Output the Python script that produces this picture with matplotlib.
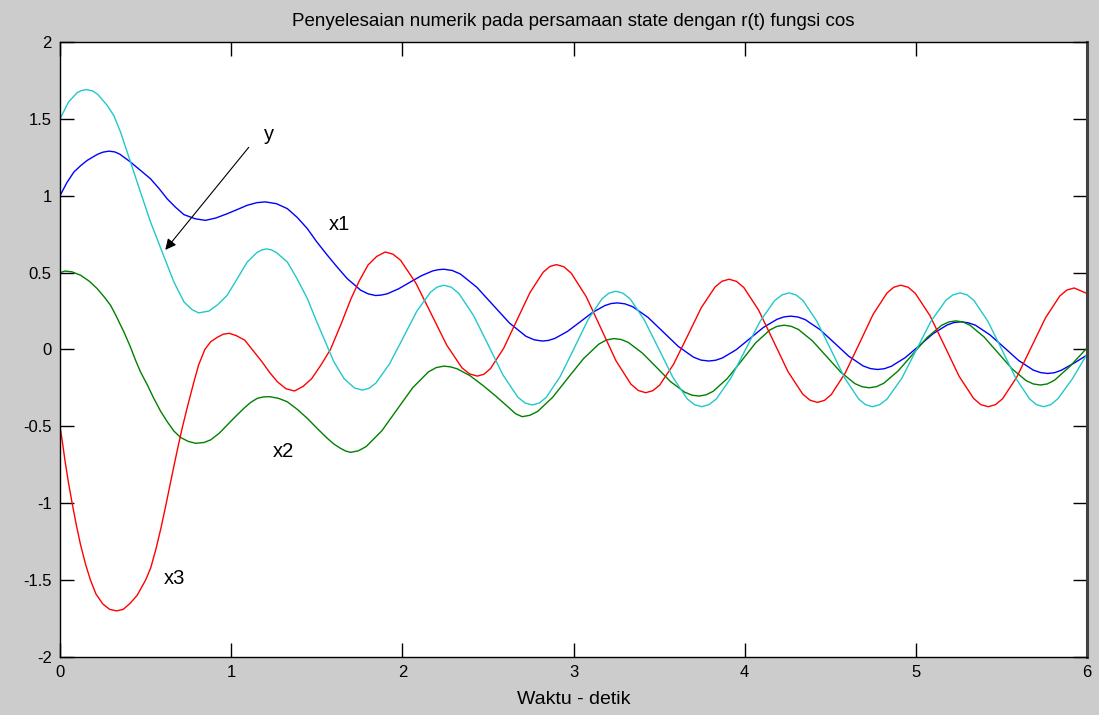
import matplotlib
matplotlib.use("Agg")
import matplotlib.pyplot as plt

# x1 (blue)
t_x1 = [0, 0.04, 0.081, 0.12, 0.159, 0.22, 0.25, 0.285, 0.32, 0.35, 0.412, 0.47, 0.529, 0.58, 0.626,
        0.675, 0.724, 0.79, 0.85, 0.91, 0.977, 1.035, 1.094, 1.15, 1.20, 1.265, 1.328, 1.385, 1.445,
        1.50, 1.562, 1.62, 1.678, 1.756, 1.80, 1.844, 1.877, 1.911, 1.977, 2.044, 2.110, 2.177, 2.21,
        2.243, 2.291, 2.339, 2.435, 2.530, 2.626, 2.722, 2.77, 2.818, 2.854, 2.891, 2.964, 3.038,
        3.111, 3.184, 3.22, 3.257, 3.30, 3.346, 3.435, 3.524, 3.612, 3.701, 3.745, 3.790, 3.83, 3.870,
        3.950, 4.030, 4.110, 4.190, 4.23, 4.270, 4.312, 4.354, 4.439, 4.523, 4.607, 4.692, 4.734,
        4.776, 4.816, 4.857, 4.938, 5.020, 5.101, 5.182, 5.222, 5.263, 5.305, 5.348, 5.432, 5.517,
        5.601, 5.686, 5.728, 5.770, 5.81, 5.850, 5.930, 6.0]
x1 = [1.0, 1.085, 1.154, 1.195, 1.23, 1.27, 1.283, 1.29, 1.285, 1.27, 1.219, 1.165, 1.11, 1.045, 0.98,
      0.925, 0.877, 0.85, 0.84, 0.855, 0.883, 0.91, 0.938, 0.955, 0.96, 0.948, 0.916, 0.86, 0.786,
      0.70, 0.613, 0.535, 0.461, 0.386, 0.362, 0.351, 0.354, 0.362, 0.394, 0.437, 0.479, 0.511, 0.519,
      0.522, 0.514, 0.491, 0.405, 0.289, 0.172, 0.086, 0.063, 0.055, 0.059, 0.072, 0.117, 0.179,
      0.241, 0.286, 0.299, 0.303, 0.297, 0.278, 0.209, 0.114, 0.020, -0.050, -0.069, -0.075, -0.070,
      -0.055, -0.002, 0.071, 0.144, 0.197, 0.212, 0.217, 0.211, 0.194, 0.130, 0.044, -0.043, -0.107,
      -0.124, -0.130, -0.125, -0.109, -0.053, 0.025, 0.103, 0.159, 0.175, 0.180, 0.174, 0.158, 0.096,
      0.012, -0.072, -0.134, -0.150, -0.156, -0.151, -0.135, -0.085, -0.036]

# x2 (green)
t_x2 = [0, 0.03, 0.07, 0.12, 0.17, 0.217, 0.256, 0.295, 0.325, 0.354, 0.373, 0.41, 0.441, 0.47,
        0.51, 0.548, 0.587, 0.626, 0.665, 0.704, 0.75, 0.792, 0.84, 0.88, 0.93, 0.977, 1.026, 1.074,
        1.113, 1.152, 1.19, 1.226, 1.277, 1.328, 1.387, 1.445, 1.504, 1.562, 1.60, 1.639, 1.668,
        1.698, 1.743, 1.789, 1.880, 1.970, 2.061, 2.152, 2.197, 2.243, 2.281, 2.319, 2.395, 2.472,
        2.548, 2.624, 2.662, 2.700, 2.745, 2.790, 2.879, 2.969, 3.058, 3.148, 3.192, 3.237, 3.278,
        3.320, 3.402, 3.485, 3.568, 3.650, 3.692, 3.733, 3.774, 3.816, 3.899, 3.982, 4.064, 4.147,
        4.188, 4.230, 4.271, 4.313, 4.396, 4.479, 4.561, 4.644, 4.686, 4.727, 4.769, 4.812, 4.896,
        4.981, 5.065, 5.150, 5.192, 5.234, 5.275, 5.316, 5.398, 5.481, 5.563, 5.645, 5.686, 5.727,
        5.768, 5.810, 5.900, 6.0]
x2 = [0.5, 0.51, 0.505, 0.483, 0.445, 0.396, 0.345, 0.288, 0.225, 0.158, 0.115, 0.02, -0.069, -0.145,
      -0.23, -0.318, -0.40, -0.469, -0.53, -0.572, -0.598, -0.61, -0.605, -0.588, -0.545, -0.491,
      -0.435, -0.383, -0.345, -0.318, -0.308, -0.307, -0.318, -0.34, -0.39, -0.448, -0.515, -0.578,
      -0.615, -0.643, -0.660, -0.669, -0.659, -0.631, -0.529, -0.389, -0.248, -0.146, -0.118, -0.108,
      -0.113, -0.125, -0.170, -0.235, -0.305, -0.380, -0.418, -0.437, -0.428, -0.403, -0.310, -0.183,
      -0.060, 0.035, 0.062, 0.071, 0.065, 0.046, -0.023, -0.116, -0.210, -0.278, -0.297, -0.303,
      -0.295, -0.272, -0.188, -0.073, 0.043, 0.127, 0.150, 0.158, 0.151, 0.131, 0.056, -0.046, -0.147,
      -0.222, -0.242, -0.249, -0.242, -0.220, -0.140, -0.032, 0.077, 0.157, 0.179, 0.186, 0.179,
      0.158, 0.082, -0.023, -0.127, -0.203, -0.224, -0.231, -0.224, -0.200, -0.110, 0.010]

# x3 (red)
t_x3 = [0, 0.015, 0.03, 0.05, 0.071, 0.095, 0.12, 0.15, 0.178, 0.21, 0.25, 0.29, 0.33, 0.37, 0.41,
        0.45, 0.50, 0.53, 0.56, 0.59, 0.617, 0.665, 0.69, 0.714, 0.745, 0.78, 0.81, 0.846, 0.88, 0.92,
        0.955, 0.99, 1.03, 1.08, 1.13, 1.18, 1.225, 1.27, 1.32, 1.37, 1.42, 1.47, 1.525, 1.58, 1.64,
        1.70, 1.75, 1.80, 1.85, 1.90, 1.945, 1.990, 2.079, 2.169, 2.259, 2.348, 2.393, 2.438, 2.477,
        2.515, 2.592, 2.669, 2.746, 2.823, 2.862, 2.90, 2.944, 2.987, 3.074, 3.161, 3.248, 3.335,
        3.379, 3.422, 3.463, 3.503, 3.584, 3.666, 3.747, 3.828, 3.868, 3.909, 3.952, 3.995, 4.081,
        4.167, 4.253, 4.339, 4.382, 4.425, 4.466, 4.506, 4.587, 4.669, 4.750, 4.831, 4.871, 4.912,
        4.955, 4.997, 5.082, 5.168, 5.253, 5.338, 5.380, 5.423, 5.465, 5.507, 5.590, 5.674, 5.758,
        5.841, 5.883, 5.925, 6.0]
x3 = [-0.5, -0.61, -0.73, -0.87, -1.0, -1.14, -1.27, -1.40, -1.5, -1.59, -1.655, -1.69, -1.70, -1.69,
      -1.65, -1.60, -1.50, -1.42, -1.30, -1.16, -1.02, -0.76, -0.63, -0.51, -0.37, -0.22, -0.10, 0.0,
      0.05, 0.08, 0.10, 0.105, 0.09, 0.06, -0.01, -0.08, -0.15, -0.21, -0.255, -0.27, -0.24, -0.19,
      -0.10, 0.0, 0.16, 0.33, 0.45, 0.55, 0.605, 0.634, 0.620, 0.580, 0.432, 0.231, 0.029, -0.119,
      -0.159, -0.173, -0.161, -0.124, 0.008, 0.19, 0.371, 0.503, 0.540, 0.552, 0.538, 0.496, 0.344,
      0.136, -0.073, -0.225, -0.267, -0.281, -0.268, -0.232, -0.097, 0.088, 0.273, 0.408, 0.444,
      0.457, 0.443, 0.403, 0.257, 0.057, -0.144, -0.290, -0.330, -0.344, -0.331, -0.293, -0.154,
      0.037, 0.228, 0.367, 0.405, 0.418, 0.405, 0.365, 0.221, 0.023, -0.175, -0.319, -0.359, -0.372,
      -0.359, -0.320, -0.179, 0.014, 0.207, 0.348, 0.387, 0.40, 0.364]

# y (cyan)
t_y = [0, 0.05, 0.10, 0.125, 0.155, 0.19, 0.22, 0.276, 0.315, 0.354, 0.412, 0.47, 0.529, 0.597,
       0.665, 0.724, 0.77, 0.81, 0.87, 0.92, 0.977, 1.035, 1.094, 1.15, 1.18, 1.207, 1.235, 1.265,
       1.328, 1.385, 1.445, 1.50, 1.542, 1.60, 1.66, 1.72, 1.766, 1.806, 1.846, 1.925, 2.005, 2.084,
       2.164, 2.203, 2.243, 2.286, 2.329, 2.415, 2.502, 2.588, 2.674, 2.717, 2.760, 2.80, 2.841,
       2.922, 3.004, 3.085, 3.166, 3.206, 3.247, 3.289, 3.331, 3.414, 3.498, 3.582, 3.665, 3.707,
       3.749, 3.791, 3.834, 3.919, 4.004, 4.090, 4.175, 4.218, 4.260, 4.30, 4.341, 4.422, 4.504,
       4.585, 4.666, 4.706, 4.747, 4.789, 4.832, 4.918, 5.003, 5.088, 5.174, 5.216, 5.259, 5.30,
       5.340, 5.421, 5.503, 5.584, 5.665, 5.705, 5.746, 5.788, 5.830, 5.915, 6.0]
y = [1.5, 1.61, 1.67, 1.684, 1.69, 1.682, 1.66, 1.587, 1.52, 1.413, 1.219, 1.024, 0.829, 0.634, 0.44,
     0.31, 0.26, 0.238, 0.25, 0.29, 0.353, 0.46, 0.569, 0.63, 0.648, 0.654, 0.648, 0.63, 0.569, 0.46,
     0.331, 0.18, 0.071, -0.08, -0.19, -0.25, -0.264, -0.252, -0.218, -0.094, 0.077, 0.248, 0.372,
     0.406, 0.418, 0.405, 0.366, 0.223, 0.029, -0.166, -0.309, -0.348, -0.361, -0.348, -0.311,
     -0.176, 0.009, 0.194, 0.329, 0.366, 0.379, 0.366, 0.329, 0.191, 0.004, -0.184, -0.322, -0.359,
     -0.372, -0.359, -0.322, -0.187, -0.002, 0.183, 0.318, 0.355, 0.368, 0.355, 0.318, 0.183, -0.002,
     -0.187, -0.322, -0.359, -0.372, -0.359, -0.322, -0.187, -0.002, 0.183, 0.318, 0.355, 0.368,
     0.355, 0.318, 0.183, -0.002, -0.187, -0.322, -0.359, -0.372, -0.359, -0.320, -0.190, -0.030]

x_ticks = [0, 1, 2, 3, 4, 5, 6]
y_ticks = [-2, -1.5, -1, -0.5, 0, 0.5, 1, 1.5, 2]
y_tick_labels = ['-2', '-1.5', '-1', '-0.5', '0', '0.5', '1', '1.5', '2']

plt.rcParams['font.family'] = ['Liberation Sans', 'DejaVu Sans']

fig = plt.figure(figsize=(10.99, 7.15), dpi=100, facecolor='#cccccc')
ax = fig.add_axes([0.0546, 0.0811, 0.9345, 0.8602])

ax.plot(t_x1, x1, color='#0000ff', lw=1.0)
ax.plot(t_x2, x2, color='#008000', lw=1.0)
ax.plot(t_x3, x3, color='#ff0000', lw=1.0)
ax.plot(t_y, y, color='#22c8c8', lw=1.0)

ax.set_xlim(0, 6)
ax.set_ylim(-2, 2)
ax.set_xticks(x_ticks)
ax.set_xticklabels([str(v) for v in x_ticks])
ax.set_yticks(y_ticks)
ax.set_yticklabels(y_tick_labels)
ax.tick_params(direction='in', length=10, width=1, labelsize=12, top=True, right=True, pad=6)

for s in ax.spines.values():
    s.set_linewidth(1)
ax.spines['right'].set_linewidth(2.2)
ax.spines['right'].set_color('#404040')

ax.set_title('Penyelesaian numerik pada persamaan state dengan r(t) fungsi cos', fontsize=13.5, pad=11.5)
ax.set_xlabel('Waktu - detik', fontsize=14, labelpad=7.5)

# labels on the curves
ax.annotate('', xy=(0.605, 0.634), xytext=(1.113, 1.329),
            arrowprops=dict(arrowstyle='-|>', color='k', lw=0.8, mutation_scale=16))
ax.text(1.19, 1.40, 'y', fontsize=14.5, va='center', ha='left')
ax.text(1.569, 0.816, 'x1', fontsize=14.5, va='center', ha='left')
ax.text(1.244, -0.664, 'x2', fontsize=14.5, va='center', ha='left')
ax.text(0.607, -1.489, 'x3', fontsize=14.5, va='center', ha='left')

fig.savefig('out.png', dpi=100, facecolor=fig.get_facecolor())
